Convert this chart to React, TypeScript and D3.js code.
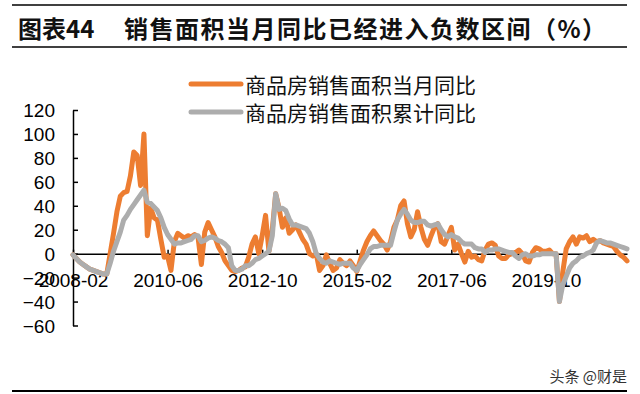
import * as d3 from 'd3';
import { useEffect, useRef } from 'react';

const firstMonth = '2008-02';
const tickLabels = ['2008-02', '2010-06', '2012-10', '2015-02', '2017-06', '2019-10'];
const yTicks = [120, 100, 80, 60, 40, 20, 0, -20, -40, -60];
const seriesNames = ['商品房销售面积当月同比', '商品房销售面积累计同比'];
const seriesColors = ['#ED7D31', '#ADADAD'];

// monthly, 2008-02 .. 2021-10
const monthlyYoY = [
  -1, -4, -7, -9, -11, -13, -14, -15, -16, -17, -17,
  0, 17, 35, 48, 51, 52, 65, 85, 82, 57, 100, 15,
  38, 30, 28, 12, -3, -2, -14, 10, 17, 15, 13, 15,
  14, 16, 14, -9, 18, 26, 20, 14, 6, 1, -6, -10,
  -14, -15, -14, -12, -11, -3, 8, 14, 0, 15, 32, 2,
  20, 50, 38, 22, 30, 17, 20, 24, 18, 12, 8, 0,
  -2, 0, -14, -10, -1, -8, -14, -12, -5, -8, -10, -6,
  -10, -15, -6, 3, 10, 15, 19, 15, 11, 8, 3, 10,
  22, 28, 40, 44, 25, 14, 20, 35, 22, 12, 7, 15,
  22, 25, 10, 8, 15, 22, 3, 8, 0, -7, 2, -3,
  -2, -5, -6, 3, 8, 9, 7, -2, -4, -4, -1, 0,
  1, 3, 0, -6, -7, 1, 5, 4, 2, 2, 3, 0,
  0, -40, -15, 4, 10, 14, 8, 14, 13, 15, 10, 12,
  10, 11, 9, 8, 7, 6, 2, -1, -3, -6,
];

const cumulativeYoY = [
  -1, -4, -7, -9, -11, -13, -14, -15, -16, -17, -17,
  -8, 2, 10, 18, 28, 32, 37, 41, 45, 49, 53, 43,
  42, 39, 36, 30, 22, 16, 12, 8, 9, 9, 10, 11,
  12, 15, 15, 10, 11, 13, 14, 13, 11, 10, 8, 5,
  -10, -14, -14, -13, -10, -10, -8, -5, -4, -2, 0, 2,
  15, 50, 37, 38, 36, 29, 24, 24, 23, 22, 21, 17,
  10, 0, -4, -7, -8, -6, -7, -8, -9, -8, -8, -8,
  -12, -14, -9, -5, -1, 4, 6, 6, 7, 7, 7, 7,
  18, 28, 33, 37, 33, 28, 26, 26, 27, 27, 24, 23,
  24, 25, 20, 16, 14, 16, 14, 13, 10, 8, 8, 8,
  5, 4, 4, 1, 3, 3, 4, 4, 3, 2, 1, 1,
  -2, -4, -1, 0, -2, -2, -1, -1, 0, 0, 0, 0,
  0, -40, -26, -19, -12, -8, -6, -3, -2, 0, 1, 3,
  9, 11, 10, 9, 9, 8, 7, 6, 5, 4,
];

const cjkFont = '"Noto Sans CJK SC", sans-serif';
const numFont = '"Liberation Sans", Arial, sans-serif';

function SalesAreaChart() {
  const chartRef = useRef<SVGSVGElement>(null);

  useEffect(() => {
    const width = 640;
    const height = 394;
    const margin = { top: 110, right: 13, bottom: 68.5, left: 73 };

    // @ts-expect-error ref typing
    const svg = d3.select(chartRef.current);
    svg.selectAll('*').remove();

    const parse = d3.timeParse('%Y-%m');
    const fmt = d3.timeFormat('%Y-%m');
    const start = parse(firstMonth) as Date;
    const months = monthlyYoY.map((_, i) => fmt(d3.timeMonth.offset(start, i)));

    const x = d3
      .scalePoint()
      .domain(months)
      .range([margin.left, width - margin.right]);
    const y = d3
      .scaleLinear()
      .domain([-60, 120])
      .range([height - margin.bottom, margin.top]);

    // frame lines + title
    svg.append('line').attr('x1', 12).attr('x2', 627).attr('y1', 5).attr('y2', 5)
      .attr('stroke', '#000').attr('stroke-width', 1.5);
    svg.append('line').attr('x1', 12).attr('x2', 627).attr('y1', 47).attr('y2', 47)
      .attr('stroke', '#000').attr('stroke-width', 1.5);
    svg.append('line').attr('x1', 12).attr('x2', 627).attr('y1', 391).attr('y2', 391)
      .attr('stroke', '#000').attr('stroke-width', 2);

    svg.append('text')
      .attr('x', 18).attr('y', 38)
      .attr('font-family', cjkFont).attr('font-size', 24).attr('font-weight', 700)
      .attr('fill', '#111')
      .text('图表44');
    svg.append('text')
      .attr('x', 124).attr('y', 38)
      .attr('font-family', cjkFont).attr('font-size', 24).attr('font-weight', 700)
      .attr('letter-spacing', 1.5)
      .attr('fill', '#111')
      .text('销售面积当月同比已经进入负数区间（%）');

    // y axis
    const yAxis = svg.append('g')
      .attr('transform', `translate(${margin.left},0)`)
      .call(d3.axisLeft(y).tickValues(yTicks).tickSizeInner(-5).tickSizeOuter(0));
    yAxis.select('.domain').attr('stroke', '#000').attr('stroke-width', 1.5);
    yAxis.selectAll('.tick line').attr('stroke', '#000').attr('stroke-width', 1.5);
    yAxis.selectAll('.tick text')
      .attr('x', -18).attr('dy', '0.35em')
      .attr('font-family', numFont).attr('font-size', 19).attr('fill', '#000');

    // x axis on the zero line
    const xAxis = svg.append('g')
      .attr('transform', `translate(0,${y(0)})`)
      .call(d3.axisBottom(x).tickValues(tickLabels).tickSizeInner(-4).tickSizeOuter(0));
    xAxis.select('.domain').attr('stroke', '#000').attr('stroke-width', 1.5);
    xAxis.selectAll('.tick line').attr('stroke', '#000').attr('stroke-width', 1.5);
    xAxis.selectAll('.tick text')
      .attr('y', 33).attr('dy', 0)
      .attr('font-family', numFont).attr('font-size', 19).attr('fill', '#000');

    // series lines, cumulative drawn last (on top)
    const line = d3
      .line<number>()
      .x((_, i) => x(months[i]) as number)
      .y((d) => y(d));

    [monthlyYoY, cumulativeYoY].forEach((values, k) => {
      svg.append('path')
        .datum(values)
        .attr('d', line)
        .attr('fill', 'none')
        .attr('stroke', seriesColors[k])
        .attr('stroke-width', 5)
        .attr('stroke-linejoin', 'round')
        .attr('stroke-linecap', 'round');
    });

    // legend
    const legend = svg.append('g');
    seriesNames.forEach((name, k) => {
      const ly = 84 + k * 28;
      legend.append('line')
        .attr('x1', 191).attr('x2', 241).attr('y1', ly).attr('y2', ly)
        .attr('stroke', seriesColors[k]).attr('stroke-width', 5)
        .attr('stroke-linecap', 'round');
      legend.append('text')
        .attr('x', 245).attr('y', ly + 9)
        .attr('font-family', cjkFont).attr('font-size', 21).attr('fill', '#111')
        .text(name);
    });

    // watermark
    svg.append('text')
      .attr('x', 627).attr('y', 382)
      .attr('text-anchor', 'end')
      .attr('font-family', cjkFont).attr('font-size', 15).attr('fill', '#333')
      .text('头条 @财是');
  }, []);

  return (
    <svg
      ref={chartRef}
      width={640}
      height={394}
      style={{ position: 'absolute', left: 0, top: 0, background: '#fff' }}
    />
  );
}

export default function App() {
  return <SalesAreaChart />;
}
